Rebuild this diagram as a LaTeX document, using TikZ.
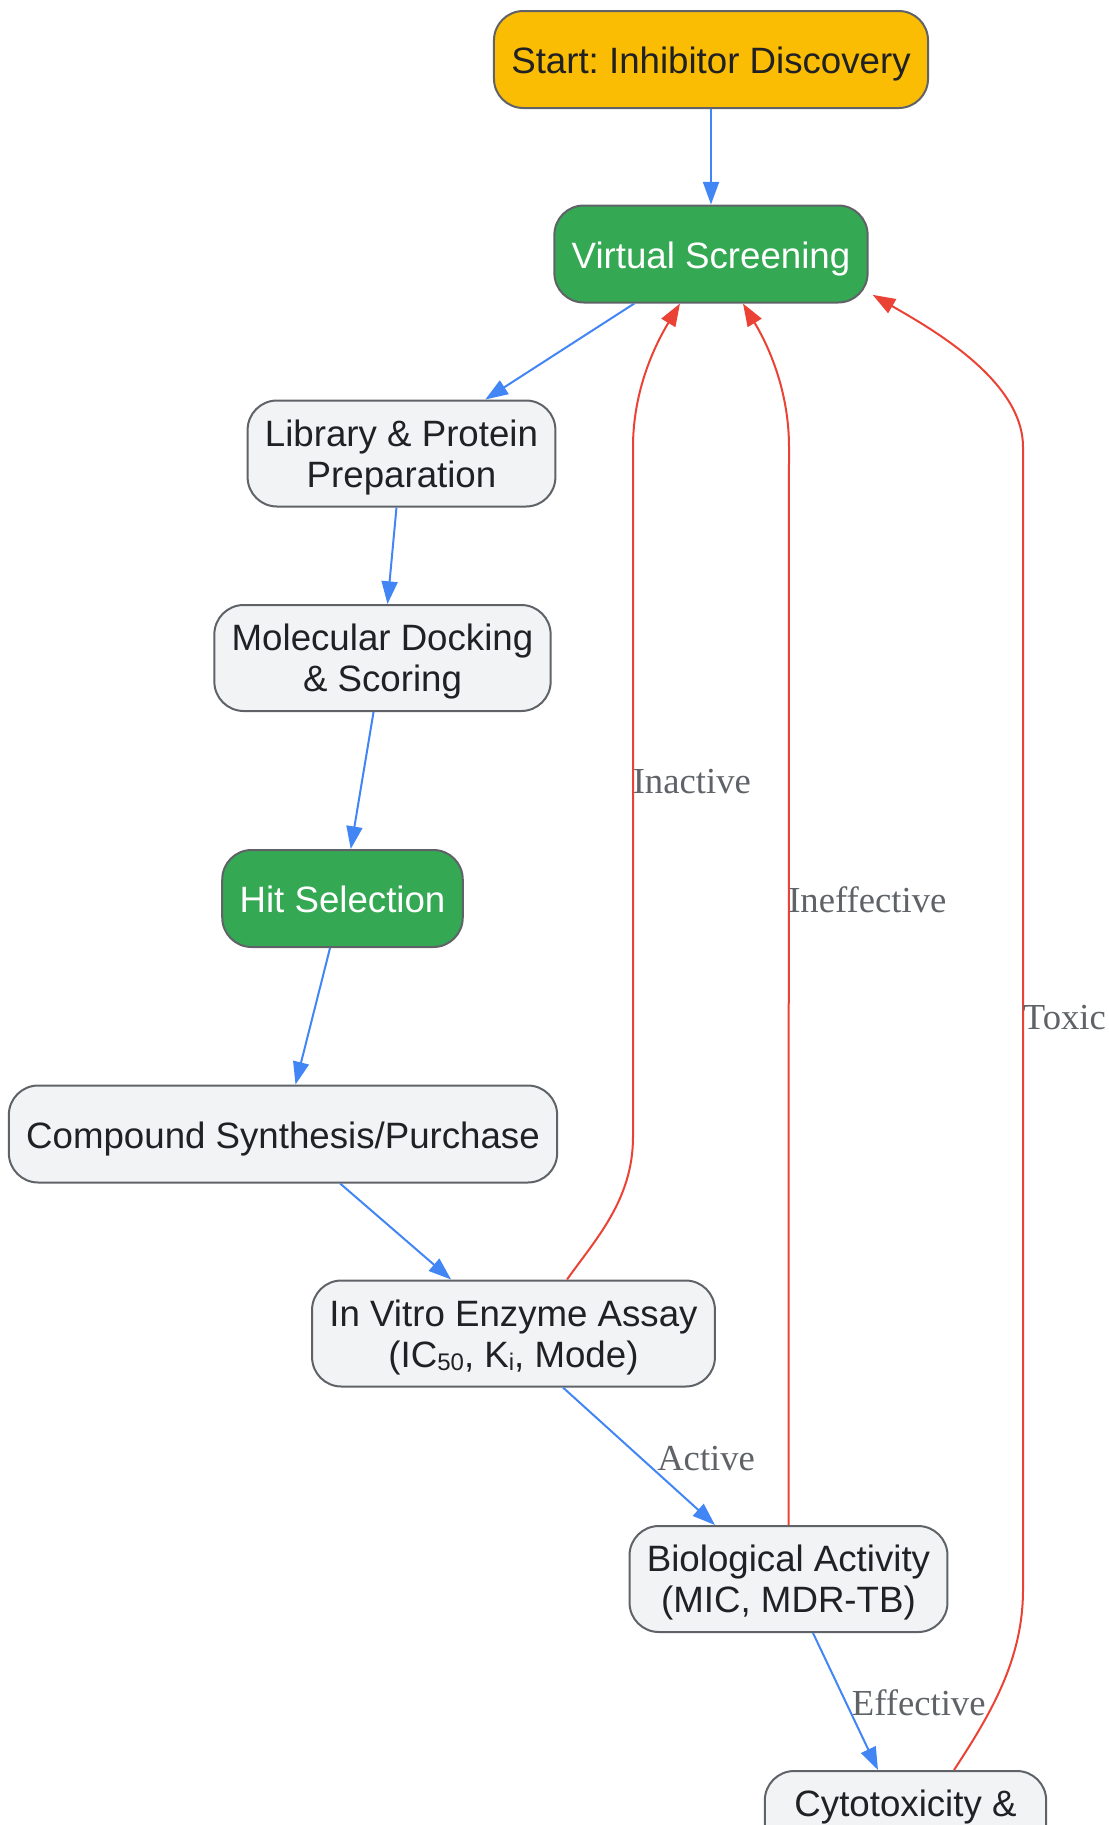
\documentclass[tikz,border=0pt]{standalone}
\usepackage{fontspec}
\setmainfont{Liberation Serif}
\setsansfont{Liberation Sans}
\usetikzlibrary{arrows.meta}
\definecolor{gblue}{HTML}{4285F4}
\definecolor{gred}{HTML}{EA4335}
\definecolor{ggreen}{HTML}{34A853}
\definecolor{gyellow}{HTML}{FBBC04}
\definecolor{gfill}{HTML}{F1F3F4}
\definecolor{gline}{HTML}{5F6368}
\definecolor{gtext}{HTML}{202124}
\newcommand{\lowsub}[1]{\raisebox{-2pt}{\fontsize{18}{18}\selectfont #1}}
\frenchspacing
\begin{document}
\begin{tikzpicture}[x=0.75pt,y=0.75pt]
\tikzstyle{every node}+=[font=\sffamily\fontsize{27.5}{31}\selectfont]
\tikzstyle{box}=[draw=gline, line width=1.5pt, rounded corners=22pt, fill=gfill, text=gtext, align=center, inner xsep=13pt, inner ysep=4pt, minimum height=72.75pt, text height=21.5pt, text depth=0pt]
\tikzstyle{twobox}=[box, minimum height=79.5pt, text height=, text depth=0pt]
\tikzstyle{greenbox}=[box, fill=ggreen, text=white]
\tikzstyle{flow}=[draw=gblue, line width=1.5pt, -{Triangle[length=17pt,width=12pt]}]
\tikzstyle{back}=[draw=gred, line width=1.5pt, -{Triangle[length=17pt,width=12pt]}]
\tikzstyle{lbl}=[font=\rmfamily\fontsize{27.5}{31}\selectfont, text=gline, anchor=base west, inner sep=0pt]
\useasboundingbox (0,0) rectangle (1108,-1825);
\clip (0,0) rectangle (1108,-1825);
\node [box, fill=gyellow] (start) at (711,-59.5) {Start: Inhibitor Discovery};
\node [greenbox] (vs) at (711,-254) {Virtual Screening};
\node [twobox] (lib) at (401.5,-453.5) {Library \& Protein\\Preparation};
\node [twobox] (dock) at (382.5,-658) {Molecular Docking\\\& Scoring};
\node [greenbox] (hit) at (342.5,-898.5) {Hit Selection};
\node [box] (comp) at (283,-1134) {Compound Synthesis/Purchase};
\node [twobox] (iva) at (513.5,-1333.5) {In Vitro Enzyme Assay\\(IC\lowsub{50}, K\lowsub{i}, Mode)};
\node [twobox] (bio) at (788.5,-1579) {Biological Activity\\(MIC, MDR-TB)};
\node [twobox, minimum width=211pt] (cyto) at (905.5,-1824) {Cytotoxicity \&\\\strut};
\draw [flow] (start) -- (vs);
\draw [flow] (vs) -- (lib);
\draw [flow] (lib) -- (dock);
\draw [flow] (dock) -- (hit);
\draw [flow] (hit) -- (comp);
\draw [flow] (comp) -- (iva);
\draw [flow] (563,0 |- iva.south) -- (715,0 |- bio.north);
\draw [flow] (813,0 |- bio.south) -- (878,0 |- cyto.north);
\draw [back] (567,0 |- iva.north) .. controls (595,-1240) and (633,-1200) .. (633,-1137) -- (633,-447) .. controls (633,-390) and (655,-345) .. (680,0 |- vs.south);
\draw [back] (bio.north) -- (789,-447) .. controls (789,-390) and (768,-345) .. (743,0 |- vs.south);
\draw [back] (954,0 |- cyto.north) .. controls (990,-1715) and (1023,-1660) .. (1023,-1590) -- (1023,-447) .. controls (1023,-380) and (930,-328) .. ([xshift=3pt,yshift=6.5pt]vs.south east);
\node [lbl] (linactive) at (632.5,-793.5) {Inactive};
\node [lbl] (lineffective) at (788,-912) {Ineffective};
\node [lbl] (ltoxic) at (1022.6,-1029) {Toxic};
\node [lbl] (lactive) at (657,-1470) {Active};
\node [lbl] (leffective) at (851.6,-1715) {Effective};
\end{tikzpicture}
\end{document}
